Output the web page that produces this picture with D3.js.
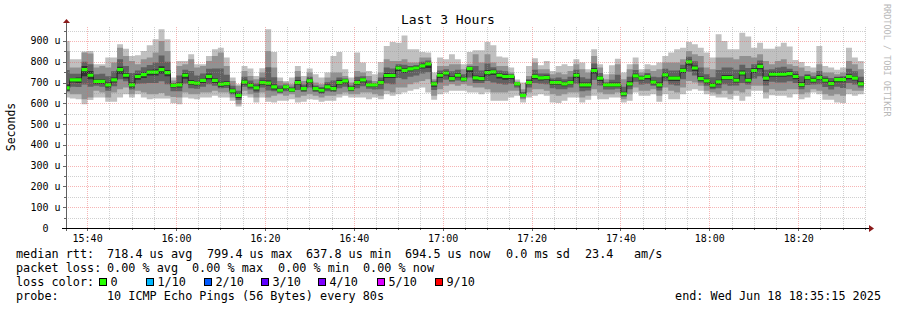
<!DOCTYPE html>
<html><head><meta charset="utf-8">
<script src="https://cdn.jsdelivr.net/npm/d3@7"></script>
<style>
body{margin:0;background:#fff}
svg{display:block}
text{font-family:"DejaVu Sans Mono",monospace;white-space:pre}
</style>
</head><body>
<svg id="c" width="897" height="310"></svg>
<script>
// ---------- data ----------
const title = "Last 3 Hours";
const yAxisTitle = "Seconds";
const startTime = Date.UTC(2025, 5, 18, 15, 35, 15);
const endTime = Date.UTC(2025, 5, 18, 18, 35, 15);
const firstStepTime = Date.UTC(2025, 5, 18, 15, 34, 45);
const stepSeconds = 80;
const yTickValues = [0, 100, 200, 300, 400, 500, 600, 700, 800, 900];
const yTickLabels = ["0  ", "100 u", "200 u", "300 u", "400 u", "500 u", "600 u", "700 u", "800 u", "900 u"];

// median rtt per step (microseconds)
const median = [674,713,713,762,735,706,706,689,713,762,735,689,729,738,750,750,762,748,686,689,
735,700,697,710,730,710,692,695,660,638,702,687,674,700,697,679,663,679,665,700,
671,708,671,663,679,671,700,708,671,700,713,689,689,700,734,734,770,759,766,770,
780,790,694,735,746,719,735,716,767,722,719,748,751,735,729,730,694,638,700,730,
722,724,700,700,694,700,735,689,689,758,721,689,689,689,646,694,732,721,729,702,
689,737,721,721,759,799,770,719,708,687,703,724,724,711,746,711,758,778,721,740,
740,740,743,729,690,724,711,724,711,695,714,714,729,721,694];
// sorted pings (smoke), ping1 lowest .. ping8 highest (extremes dropped)
const ping8 = [900,812,812,850,852,788,788,820,820,884,863,828,831,852,879,908,956,908,724,804,
804,836,788,788,828,860,868,820,724,692,780,767,732,769,956,847,724,708,724,780,
732,767,740,724,748,828,847,764,724,844,796,756,740,799,876,895,892,927,860,860,
847,844,748,820,812,836,812,788,847,855,855,895,879,825,820,772,715,700,780,817,
783,804,756,780,788,780,812,796,764,860,788,740,783,815,748,788,820,764,788,783,
796,828,844,860,868,895,884,868,844,820,932,900,860,860,940,921,868,892,863,863,
873,892,873,809,799,780,772,876,780,772,761,772,868,820,804];
const ping7 = [852,772,772,844,840,772,780,772,796,868,828,804,788,812,820,844,900,852,710,780,
788,812,772,780,804,828,844,780,708,684,756,732,716,748,852,772,708,700,692,756,
708,748,700,692,724,748,748,732,700,756,748,732,708,748,812,804,804,812,796,796,
820,820,716,780,780,788,788,764,788,836,796,836,796,780,780,748,705,668,732,796,
764,764,740,748,740,756,788,764,748,828,772,716,740,788,716,764,788,748,764,756,
764,796,796,796,812,852,836,828,772,764,820,820,820,812,828,828,820,836,804,788,
804,812,788,780,772,756,748,788,748,748,740,748,804,788,764];
const ping6 = [760,742,742,800,788,740,742,730,754,812,780,746,758,774,784,796,830,800,698,734,
762,756,734,744,766,768,768,738,684,660,728,710,696,724,774,726,686,690,680,728,
690,728,686,678,702,710,724,720,686,728,730,710,698,724,772,768,788,786,780,784,
800,806,706,758,764,754,762,740,778,780,758,792,774,758,754,740,700,654,716,762,
744,744,720,724,716,728,762,726,718,792,746,702,714,738,680,728,760,734,746,728,
726,766,758,758,786,824,802,772,740,726,760,772,772,762,786,770,788,806,762,764,
772,776,766,754,730,740,730,756,730,722,728,730,766,754,728];
const ping5 = [690,722,724,780,756,716,716,700,724,776,746,700,740,750,762,764,778,760,694,700,
746,712,708,720,742,722,704,706,670,648,714,698,684,710,710,690,672,688,674,712,
680,718,680,672,690,682,712,716,680,710,722,698,696,710,746,744,780,770,776,778,
790,798,702,746,756,730,746,726,776,734,730,760,762,746,740,738,698,646,710,740,
732,734,710,710,704,710,746,700,700,770,732,698,700,700,656,706,742,730,738,712,
700,748,732,732,770,810,782,730,718,698,714,736,736,722,758,722,770,790,732,752,
752,752,754,740,702,734,722,736,722,706,724,724,740,732,706];
const ping4 = [662,700,698,730,716,694,694,676,700,742,720,676,714,722,734,734,744,730,676,676,
718,688,686,698,716,698,680,684,648,626,690,676,662,688,684,666,652,668,656,688,
660,696,660,652,668,660,688,696,662,688,702,678,680,690,722,722,756,746,754,760,
768,770,680,722,734,710,724,708,750,710,708,734,736,720,714,716,684,630,690,716,
710,712,688,688,682,690,722,676,676,744,708,678,678,678,636,682,722,710,716,692,
676,724,708,708,746,782,756,708,696,676,690,712,712,700,734,700,746,764,708,728,
728,728,730,716,678,712,700,712,700,684,702,702,716,710,684];
const ping3 = [658,680,678,690,680,684,680,660,682,716,706,666,694,696,698,698,706,692,658,658,
694,672,670,680,692,684,672,674,644,616,680,666,652,676,662,658,654,658,654,664,
654,676,654,646,658,654,672,680,658,672,682,670,666,668,696,692,722,716,728,734,
744,750,664,700,714,704,710,704,724,698,698,708,700,694,690,694,676,628,676,698,
694,692,672,668,668,676,694,658,662,712,686,666,666,670,632,668,704,690,694,684,
662,706,690,686,716,752,734,700,684,668,672,692,684,686,698,690,720,730,686,704,
700,700,706,698,668,688,690,692,678,666,680,674,698,690,676];
const ping2 = [652,644,644,620,628,660,652,628,652,668,676,644,660,652,644,644,650,636,630,628,
652,644,644,652,652,660,652,652,628,596,660,644,628,652,628,636,644,636,644,628,
636,644,636,628,636,636,644,652,644,644,652,652,644,636,660,652,676,676,692,700,
708,716,636,668,684,692,684,692,684,676,676,668,652,652,652,660,660,620,652,668,
668,660,644,636,644,652,652,628,636,668,652,644,644,652,620,644,676,660,660,668,
636,676,660,652,676,708,700,684,660,652,644,660,644,660,652,668,684,684,652,668,
660,660,668,668,644,652,668,660,644,636,644,636,668,660,660];
const ping1 = [628,623,620,596,616,628,628,607,607,628,644,628,644,628,620,623,623,623,600,596,
628,623,620,628,628,636,628,628,612,585,636,628,604,628,607,604,612,612,620,604,
607,620,617,607,612,612,628,636,628,628,628,620,628,620,644,636,644,652,660,668,
676,652,617,644,652,660,660,660,652,652,644,652,612,612,612,628,636,604,628,636,
644,636,604,601,612,628,628,604,617,636,620,620,628,628,604,612,652,636,636,644,
607,644,620,620,644,660,668,660,644,636,628,628,620,636,612,633,660,660,623,639,
636,636,628,644,620,628,652,644,617,617,604,601,644,636,644];

const statsRtt = ["718.4 us avg", "799.4 us max", "637.8 us min", "694.5 us now", "0.0 ms sd", "23.4", "am/s"];
const statsLoss = ["0.00 % avg", "0.00 % max", "0.00 % min", "0.00 % now"];
const lossLabels = ["0", "1/10", "2/10", "3/10", "4/10", "5/10", "9/10"];
const lossColors = ["#26ff00", "#00b8ff", "#0059ff", "#5e00ff", "#7e00ff", "#dd00ff", "#ff0000"];
const probeText = "10 ICMP Echo Pings (56 Bytes) every 80s";
const endText = "end: Wed Jun 18 18:35:15 2025";
const watermark = "RRDTOOL / TOBI OETIKER";

// ---------- chart ----------
const svg = d3.select("#c");
const L = 66, R = 866, T = 28, B = 228;
const x = d3.scaleUtc().domain([startTime, endTime]).range([L, R]);
const y = d3.scaleLinear().domain([0, 962.5]).range([B, T]);

const rows = median.map((m, i) => ({
  t: new Date(firstStepTime + i * stepSeconds * 1000),
  med: m, p: [ping1[i], ping2[i], ping3[i], ping4[i], ping5[i], ping6[i], ping7[i], ping8[i]]
}));
const last = rows[rows.length - 1];
const pts = rows.concat([{ t: new Date(+last.t + stepSeconds * 1000), med: last.med, p: last.p }]);

svg.append("defs").append("clipPath").attr("id", "clip")
  .append("rect").attr("x", L).attr("y", T - 2).attr("width", R - L).attr("height", B - T + 2);

const g = svg.append("g").attr("clip-path", "url(#clip)");
const smokeColors = ["#c0c0c0", "#919191", "#616161", "#323232"];
smokeColors.forEach((col, k) => {
  const area = d3.area().curve(d3.curveStepAfter)
    .x(d => x(d.t)).y0(d => y(d.p[k])).y1(d => y(d.p[7 - k]));
  g.append("path").datum(pts).attr("d", area).attr("fill", col);
});
g.append("path").datum(pts)
  .attr("d", d3.line().curve(d3.curveStepAfter).x(d => x(d.t)).y(d => y(d.med)))
  .attr("fill", "none").attr("stroke", "#202020").attr("stroke-width", 1);
g.append("path").datum(pts)
  .attr("d", d3.area().curve(d3.curveStepAfter).x(d => x(d.t))
    .y0(d => y(d.med) + 1.6).y1(d => y(d.med) - 1.6))
  .attr("fill", lossColors[0]);

// grid
const minorCol = "rgba(150,150,150,0.45)";
const majorCol = "rgba(235,90,90,0.45)";
const grid = svg.append("g");
const minorV = d3.utcMinute.every(5).range(new Date(startTime), new Date(endTime));
minorV.forEach(d => {
  const major = d.getUTCMinutes() % 20 === 0;
  const xx = Math.round(x(d)) + 0.5;
  grid.append("line").attr("x1", xx).attr("x2", xx).attr("y1", T - 1).attr("y2", B)
    .attr("stroke", major ? majorCol : minorCol).attr("stroke-dasharray", "1,1");
  grid.append("line").attr("x1", xx).attr("x2", xx).attr("y1", B).attr("y2", B + (major ? 3 : 2))
    .attr("stroke", "#666");
});
d3.range(50, 961, 50).forEach(v => {
  const major = v % 100 === 0;
  const yy = Math.round(y(v)) + 0.5;
  grid.append("line").attr("x1", L).attr("x2", R).attr("y1", yy).attr("y2", yy)
    .attr("stroke", major ? majorCol : minorCol).attr("stroke-dasharray", "1,1");
  grid.append("line").attr("x1", L - (major ? 3 : 2)).attr("x2", L).attr("y1", yy).attr("y2", yy)
    .attr("stroke", "#666");
});

// axes
svg.append("line").attr("x1", L + 0.5).attr("x2", L + 0.5).attr("y1", B + 3).attr("y2", T - 6)
  .attr("stroke", "#606060");
svg.append("line").attr("x1", L - 4).attr("x2", R + 4).attr("y1", B + 0.5).attr("y2", B + 0.5)
  .attr("stroke", "#000");
svg.append("path").attr("d", `M${L - 3},${T - 5} L${L + 4},${T - 5} L${L + 0.5},${T - 9} Z`).attr("fill", "#8b1a1a");
svg.append("path").attr("d", `M${R + 3},${B - 3} L${R + 3},${B + 4} L${R + 8},${B + 0.5} Z`).attr("fill", "#8b1a1a");

// tick labels
const xLabels = d3.utcMinute.every(20).range(new Date(startTime), new Date(endTime));
svg.append("g").selectAll("text").data(xLabels).join("text")
  .attr("x", d => x(d) + 0.5).attr("y", 242).attr("text-anchor", "middle")
  .attr("font-size", 10).attr("fill", "#000").text(d3.utcFormat("%H:%M"));
svg.append("g").selectAll("text").data(yTickValues).join("text")
  .attr("x", 60.5).attr("y", d => y(d) + 3.5).attr("text-anchor", "end")
  .attr("font-size", 10).attr("fill", "#000").text((d, i) => yTickLabels[i]);

// titles
svg.append("text").attr("x", 448).attr("y", 24).attr("text-anchor", "middle")
  .attr("font-size", 13).attr("fill", "#000").text(title);
svg.append("text").attr("transform", "translate(15,127) rotate(-90)").attr("text-anchor", "middle")
  .attr("font-size", 11.5).attr("fill", "#000").text(yAxisTitle);
svg.append("text").attr("transform", "translate(884,4) rotate(90)").attr("text-anchor", "start")
  .attr("font-size", 8.5).attr("fill", "#b8b8b8").text(watermark);

// legend
const fs = 11.8;
const leg = svg.append("g").attr("font-size", fs).attr("fill", "#000");
const rtx = [107, 207, 306, 405, 506, 585, 634];
leg.append("text").attr("x", 16).attr("y", 258).text("median rtt:");
statsRtt.forEach((s, i) => leg.append("text").attr("x", rtx[i]).attr("y", 258).text(s));
leg.append("text").attr("x", 16).attr("y", 272).text("packet loss:");
const lsx = [107, 192, 278, 363];
statsLoss.forEach((s, i) => leg.append("text").attr("x", lsx[i]).attr("y", 272).text(s));
leg.append("text").attr("x", 16).attr("y", 286).text("loss color:");
const sqx = [99.5, 146.5, 204.5, 261.5, 318.5, 377.5, 435.5];
lossLabels.forEach((s, i) => {
  leg.append("rect").attr("x", sqx[i]).attr("y", 278.5).attr("width", 7).attr("height", 7)
    .attr("fill", lossColors[i]).attr("stroke", "#000").attr("stroke-width", 1);
  leg.append("text").attr("x", sqx[i] + 11).attr("y", 286).text(s);
});
leg.append("text").attr("x", 16).attr("y", 300).text("probe:");
leg.append("text").attr("x", 107).attr("y", 300).text(probeText);
leg.append("text").attr("x", 881).attr("y", 300).attr("text-anchor", "end").text(endText);
</script>
</body></html>
